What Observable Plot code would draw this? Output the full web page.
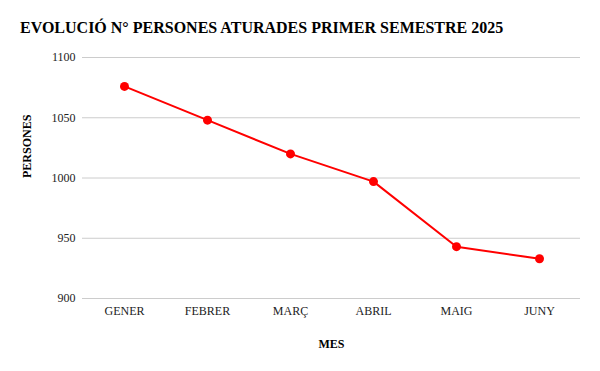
<!DOCTYPE html>
<html>
<head>
<meta charset="utf-8">
<script src="https://cdn.jsdelivr.net/npm/d3@7"></script>
<script src="https://cdn.jsdelivr.net/npm/@observablehq/plot@0.6"></script>
<style>
  html, body { margin: 0; padding: 0; background: #fff; }
  #wrap { position: relative; width: 600px; height: 371px; }
  #title { position: absolute; z-index: 2; left: 20px; top: 19px; font-family: "Liberation Serif", serif; font-weight: bold; font-size: 16px; color: #000; white-space: nowrap; }
  svg { position: absolute; left: 0; top: 0; z-index: 1; }
</style>
</head>
<body>
<div id="wrap"><div id="title">EVOLUCIÓ N° PERSONES ATURADES PRIMER SEMESTRE 2025</div></div>
<script>
const months = ["GENER", "FEBRER", "MARÇ", "ABRIL", "MAIG", "JUNY"];
const persons = [1076, 1048, 1020, 997, 943, 933];
const yTicks = [900, 950, 1000, 1050, 1100];

const data = months.map((m, i) => ({mes: m, persones: persons[i]}));

const chart = Plot.plot({
  width: 600,
  height: 371,
  marginLeft: 82,
  marginRight: 20,
  marginTop: 57,
  marginBottom: 73,
  style: {fontFamily: "Liberation Serif, serif", fontSize: "12px", color: "#222", background: "#fff"},
  x: {type: "point", domain: months, padding: 0.5, label: null, tickSize: 0, tickPadding: 8},
  y: {domain: [900, 1100], ticks: yTicks, tickFormat: d3.format("d"), label: null, tickSize: 0, tickPadding: 7},
  marks: [
    Plot.ruleY(yTicks, {stroke: "#ccc", strokeWidth: 1}),
    Plot.line(data, {x: "mes", y: "persones", stroke: "#ff0000", strokeWidth: 2}),
    Plot.dot(data, {x: "mes", y: "persones", r: 4.5, fill: "#ff0000", stroke: "none"}),
    Plot.text(["PERSONES"], {frameAnchor: "left", dx: -55, rotate: -90, fontWeight: "bold", fontSize: 12, fill: "#000"}),
    Plot.text(["MES"], {frameAnchor: "bottom", dy: 49, fontWeight: "bold", fontSize: 12, fill: "#000"})
  ]
});
document.getElementById("wrap").appendChild(chart);
</script>
</body>
</html>
